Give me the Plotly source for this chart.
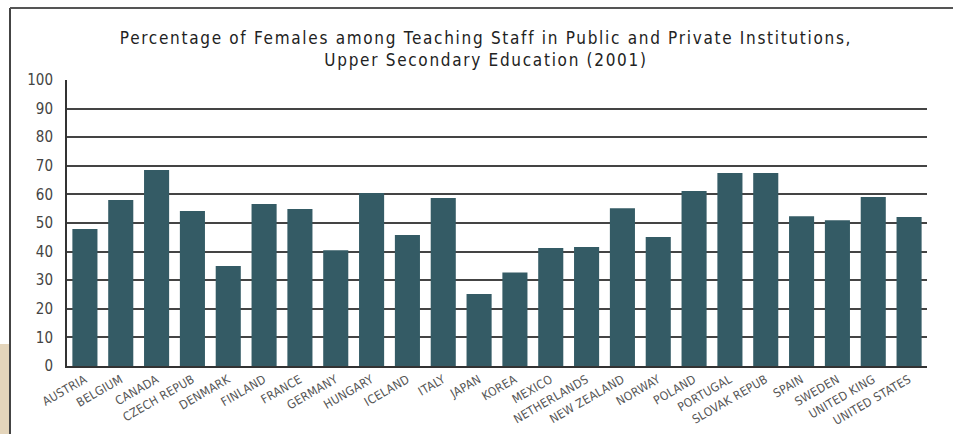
import plotly.graph_objects as go

countries = ["AUSTRIA", "BELGIUM", "CANADA", "CZECH REPUB", "DENMARK", "FINLAND", "FRANCE",
             "GERMANY", "HUNGARY", "ICELAND", "ITALY", "JAPAN", "KOREA", "MEXICO",
             "NETHERLANDS", "NEW ZEALAND", "NORWAY", "POLAND", "PORTUGAL", "SLOVAK REPUB",
             "SPAIN", "SWEDEN", "UNITED KING", "UNITED STATES"]
female_pct = [47.9, 58.0, 68.5, 54.2, 35.0, 56.6, 54.9,
              40.5, 60.5, 45.8, 58.7, 25.2, 32.7, 41.3,
              41.6, 55.2, 45.1, 61.2, 67.5, 67.5,
              52.4, 51.0, 59.1, 52.1]
y_ticks = [0, 10, 20, 30, 40, 50, 60, 70, 80, 90, 100]

FONT = "DejaVu Sans Condensed, Liberation Sans Narrow, sans-serif"

fig = go.Figure(go.Bar(
    x=countries, y=female_pct,
    marker=dict(color="#345b65", line=dict(width=0)),
    hoverinfo="x+y",
))

L, R, T, B = 67, 26, 80, 68
W, H = 953, 434
pw, ph = W - L - R, H - T - B

def px(x):
    return (x - L) / pw

def py(y):
    return (H - B - y) / ph

fig.update_layout(
    width=W, height=H,
    margin=dict(l=L, r=R, t=T, b=B, autoexpand=False),
    paper_bgcolor="white", plot_bgcolor="white",
    bargap=0.3,
    showlegend=False,
    font=dict(family=FONT, color="#333"),
    title=dict(
        text="Percentage of Females among Teaching Staff in Public and Private Institutions,<br>Upper Secondary Education (2001)",
        x=px(486), xref="paper", xanchor="center",
        y=1 - 44 / H, yref="container", yanchor="middle",
        font=dict(family=FONT, size=17, color="#222"),
    ),
    xaxis=dict(
        tickangle=-30, tickfont=dict(size=12, color="#555"),
        showline=True, linecolor="#333", linewidth=2,
        showgrid=False, ticks="", range=[-0.5, 23.5], automargin=False,
    ),
    yaxis=dict(
        range=[0, 100], tickvals=y_ticks, tickfont=dict(size=15, color="#444"),
        showline=True, linecolor="#333", linewidth=2,
        showgrid=True, gridcolor="#444", gridwidth=1.5,
        ticks="", ticklen=0, zeroline=False, automargin=False,
        ticklabelstandoff=9,
    ),
    shapes=[
        dict(type="rect", xref="paper", yref="paper",
             x0=px(0), x1=px(9), y0=py(344), y1=py(434),
             fillcolor="#e4d5bb", line=dict(width=0), layer="below"),
        dict(type="line", xref="paper", yref="paper",
             x0=px(10), x1=px(10), y0=py(8), y1=py(434),
             line=dict(color="#444", width=2)),
        dict(type="line", xref="paper", yref="paper",
             x0=px(10), x1=px(953), y0=py(8), y1=py(8),
             line=dict(color="#555", width=2)),
    ],
)

fig.write_html("out.html", config={"displayModeBar": False})

# remove the default page margin and add the letter tracking seen in the reference
with open("out.html", "r", encoding="utf-8") as f:
    html = f.read()
css = ("<style>html,body{margin:0;padding:0;overflow:hidden;}"
       ".gtitle{letter-spacing:1.7px;}"
       ".xtick text{letter-spacing:0.3px;}</style>")
html = html.replace("<head>", "<head>" + css, 1)
with open("out.html", "w", encoding="utf-8") as f:
    f.write(html)
